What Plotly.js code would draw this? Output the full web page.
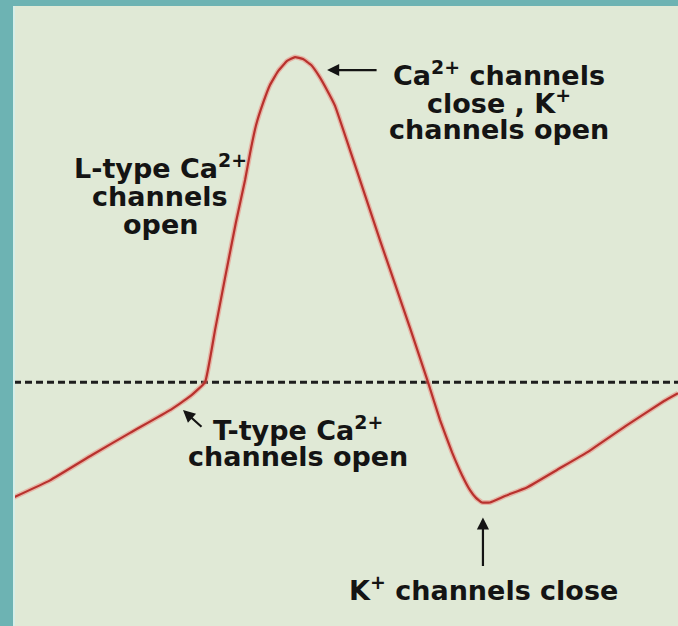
<!DOCTYPE html>
<html>
<head>
<meta charset="utf-8">
<script src="https://cdn.plot.ly/plotly-3.0.1.min.js"></script>
<style>
  html, body { margin: 0; padding: 0; background: #6db3b3; }
  #chart { width: 678px; height: 626px; }
</style>
</head>
<body>
<div id="chart"></div>
<script>
// Pacemaker (SA node) action potential: time in ms, membrane potential in mV
const timeMs = [0, 21.7, 47.0, 69.9, 94.0, 106.0, 115.1, 121.1, 127.1, 133.7, 139.2, 142.2,
  145.8, 150.0, 154.2, 159.0, 164.5, 169.3, 174.1, 178.9, 183.7, 188.6, 193.4, 202.4,
  211.4, 220.5, 229.5, 238.6, 249.4, 256.6, 263.9, 269.9, 274.7, 278.3, 281.9, 286.7,
  295.8, 309.0, 327.1, 345.2, 369.3, 391.6, 400];
const potentialMv = [-57.7, -55.1, -51.2, -47.8, -44.3, -42.2, -40.0, -32.0, -24.0, -15.4, -8.9, -4.8,
  -0.5, 2.9, 5.7, 7.8, 9.4, 10.0, 9.7, 8.8, 7.1, 4.9, 2.5, -4.3,
  -11.2, -18.2, -24.9, -31.7, -40.0, -45.8, -50.8, -54.3, -56.6, -57.8, -58.5, -58.5,
  -57.5, -56.2, -53.5, -50.8, -46.6, -42.9, -41.7];

// Threshold potential
const thresholdMv = -40;
const thresholdSpan = [0, 400];

// Axis extents
const timeRange = [0, 400];
const mvRange = [-77.5, 17.85];

const labelFont = { family: 'DejaVu Sans, Arial, sans-serif', size: 27, color: '#141414', weight: 700 };

function label(text, x, y) {
  return { x: x, y: y, xref: 'x', yref: 'y', text: text, showarrow: false,
           xanchor: 'center', yanchor: 'middle', font: labelFont };
}
function arrow(x, y, ax, ay) {
  return { x: x, y: y, xref: 'x', yref: 'y', text: '', showarrow: true,
           ax: ax, ay: ay, arrowhead: 2, arrowsize: 1.1, arrowwidth: 2.2,
           arrowcolor: '#141414', standoff: 0, startstandoff: 0 };
}

const traces = [
  { x: thresholdSpan, y: [thresholdMv, thresholdMv], mode: 'lines',
    line: { color: '#1e1e1e', width: 3, dash: '7px,4px' }, hoverinfo: 'skip' },
  { x: timeMs, y: potentialMv, mode: 'lines',
    line: { color: 'rgba(236,130,118,0.5)', width: 5, shape: 'spline', smoothing: 0.3 }, hoverinfo: 'skip' },
  { x: timeMs, y: potentialMv, mode: 'lines',
    line: { color: '#b8312d', width: 2.2, shape: 'spline', smoothing: 0.3 }, hoverinfo: 'skip' }
];

const layout = {
  width: 678, height: 626,
  margin: { l: 14, r: 0, t: 6, b: 0, pad: 0 },
  paper_bgcolor: '#6db3b3',
  plot_bgcolor: '#e0e9d6',
  showlegend: false,
  xaxis: { range: timeRange, visible: false, fixedrange: true },
  yaxis: { range: mvRange, visible: false, fixedrange: true },
  shapes: [
    { type: 'line', xref: 'paper', yref: 'paper', x0: 0, x1: 0, y0: 0, y1: 1,
      line: { color: '#d6eee8', width: 2 } }
  ],
  annotations: [
    label('Ca<sup>2+</sup> channels', 292.2, 7.5),
    label('close , K<sup>+</sup>', 292.2, 3.2),
    label('channels open', 292.2, -1.2),
    arrow(188.6, 8.0, 51, 0),

    label('L-type Ca<sup>2+</sup>', 88.0, -6.8),
    label('channels', 88.0, -11.5),
    label('open', 88.0, -15.7),

    label('T-type Ca<sup>2+</sup>', 171.1, -47.2),
    label('channels open', 171.1, -51.5),
    arrow(101.8, -44.3, 20, 18),

    label('K<sup>+</sup> channels close', 283.1, -71.8),
    arrow(282.5, -60.8, 0, 50)
  ]
};

Plotly.newPlot('chart', traces, layout, { displayModeBar: false, staticPlot: true });
</script>
</body>
</html>
